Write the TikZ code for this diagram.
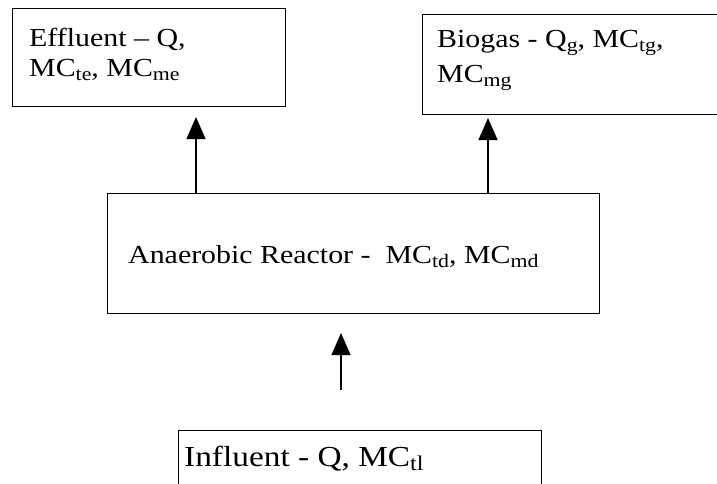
\documentclass[tikz,border=0pt]{standalone}
\usepackage{fontspec}
\setmainfont{Liberation Serif}[FakeStretch=1.15]
\usetikzlibrary{arrows.meta}
\newcommand\sbx[1]{\raisebox{-4pt}{\fontsize{19}{19}\selectfont #1}}
\newcommand\sbxl[1]{\raisebox{-4pt}{\fontsize{21}{21}\selectfont #1}}
\begin{document}
\begin{tikzpicture}[x=1pt,y=-1pt,
 box/.style={draw, line width=1.3pt, rectangle, anchor=north west, inner sep=0pt},
 lbl/.style={anchor=base west, inner sep=0pt, font=\fontsize{26}{30}\selectfont},
 lblbig/.style={anchor=base west, inner sep=0pt, font=\fontsize{29}{32}\selectfont},
 arr/.style={line width=1.2pt, -{Triangle[width=19pt,length=22pt]}}]
\useasboundingbox (0,0) rectangle (717,484);
\clip (0,0) rectangle (717,484);
% boxes
\node[box, minimum width=273pt, minimum height=98pt] (eff) at (12,8) {};
\node[box, minimum width=310pt, minimum height=100pt] (bio) at (422,14) {};
\node[box, minimum width=492pt, minimum height=120pt] (reac) at (107,193) {};
\node[box, minimum width=363pt, minimum height=80pt] (infl) at (178,430) {};
% texts
\node[lbl] (efft1) at (29,47) {Effluent – Q,};
\node[lbl] (efft2) at (29,77) {MC\sbx{te}, MC\sbx{me}};
\node[lbl] (biot1) at (437,48) {Biogas - Q\sbx{g}, MC\sbx{tg},};
\node[lbl] (biot2) at (437,83) {MC\sbx{mg}};
\node[lbl] (react) at (128,263) {Anaerobic Reactor - \ MC\sbx{td}, MC\sbx{md}};
\node[lblbig] (inflt) at (184,466) {Influent - Q, MC\sbxl{tl}};
% arrows
\coordinate (a1) at (196,117);
\coordinate (a2) at (488,118);
\coordinate (a3s) at (341,390);
\coordinate (a3) at (341,333);
\draw[arr] (reac.north -| a1) -- (a1);
\draw[arr] (reac.north -| a2) -- (a2);
\draw[arr] (a3s) -- (a3);
\end{tikzpicture}
\end{document}
